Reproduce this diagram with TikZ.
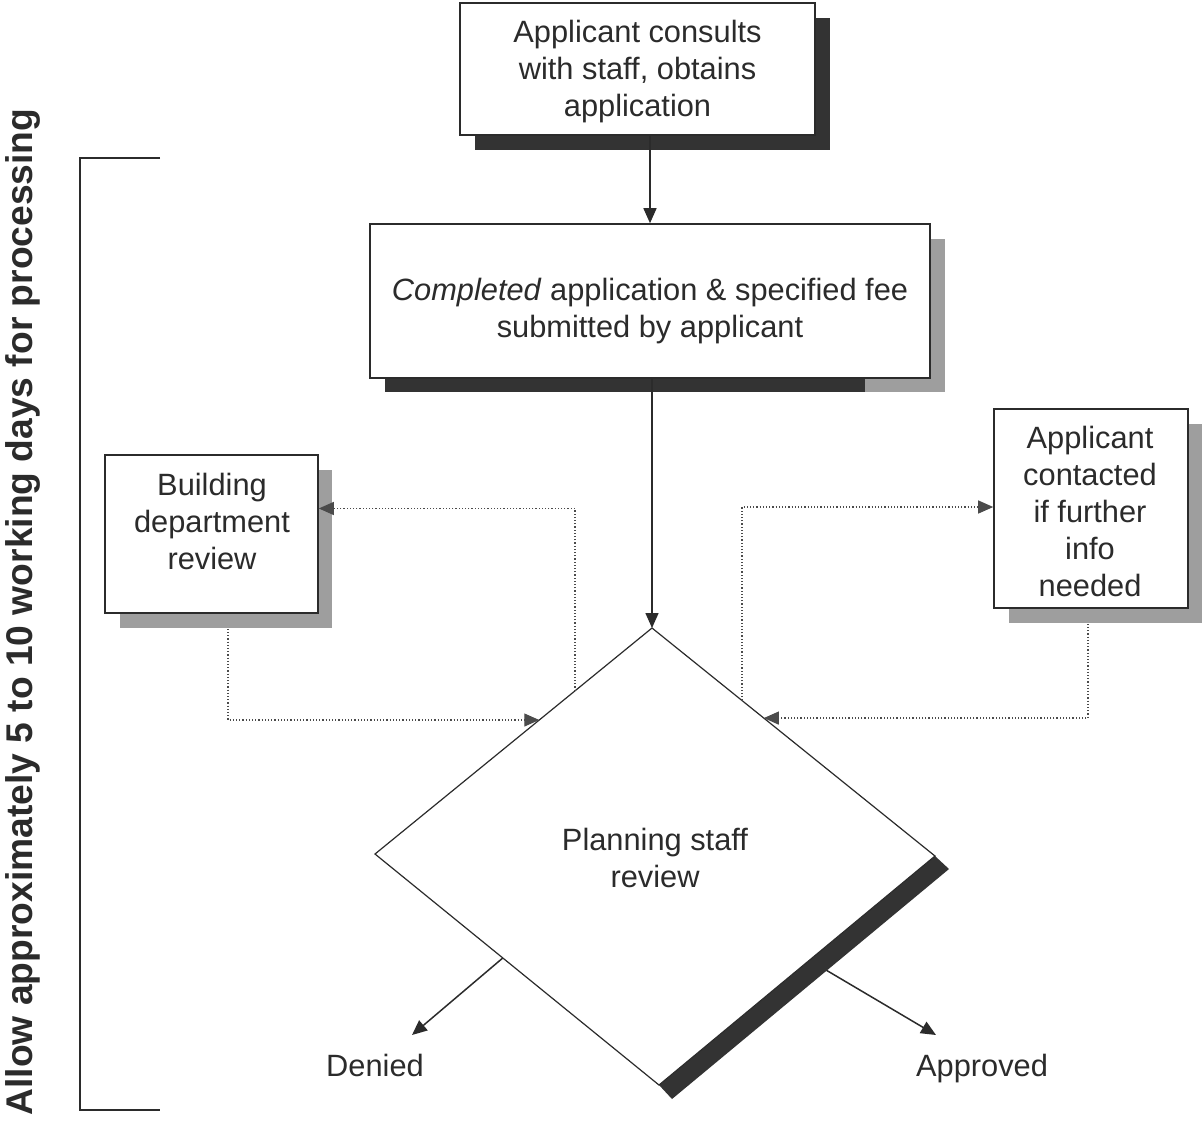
\documentclass[tikz,border=0pt]{standalone}
\usepackage{fontspec}
\setmainfont{Liberation Sans}
\usetikzlibrary{arrows.meta,calc}
\definecolor{ink}{HTML}{2B2B2B}
\definecolor{shdark}{HTML}{333333}
\definecolor{shgrey}{HTML}{9E9E9E}
\begin{document}
\begin{tikzpicture}[x=0.5pt,y=-0.5pt,
  box/.style={draw=ink, line width=0.8pt, fill=white, inner sep=0pt},
  txt/.style={text=ink, align=center, font=\fontsize{15.4}{18.5}\selectfont, inner sep=0pt},
  arr/.style={draw=ink, line width=0.75pt, -{Triangle[length=7.5pt,width=6.5pt]}},
  dotarr/.style={draw=ink!85, line width=0.6pt, densely dotted, -{Triangle[length=7.5pt,width=6.5pt]}}
]
\useasboundingbox (0,0) rectangle (1203,1121);

% diamond corners
\coordinate (dtop) at (652,628);
\coordinate (dright) at (935,856);
\coordinate (dbot) at (659,1085);
\coordinate (dleft) at (375,854);
\coordinate (denend) at (412,1035);
\coordinate (append) at (936,1035);

% approved arrow (partly under shadow)
\draw[arr] ($(dright)!0.455!(dbot)$) -- (append);

% shadows
\fill[shdark] (475,18) rectangle (830,150);
\fill[shgrey] (385,239) rectangle (945,392);
\fill[shdark] (385,378) rectangle (865,392);
\fill[shgrey] (120,470) rectangle (332,628);
\fill[shgrey] (1009,424) rectangle (1202,623);
\fill[shdark] (dright) -- ++(14,13) -- ($(dbot)+(13,14)$) -- (dbot) -- cycle;

% boxes
\node[box, minimum width=177.5pt, minimum height=66pt] (b1) at (637.5,69) {};
\node[box, minimum width=280pt, minimum height=77pt] (b2) at (650,301) {};
\node[box, minimum width=106.5pt, minimum height=79pt] (bld) at (211.5,534) {};
\node[box, minimum width=97pt, minimum height=99.5pt] (app) at (1091,508.5) {};
\draw[ink, line width=0.6pt, fill=white] (dtop) -- (dright) -- (dbot) -- (dleft) -- cycle;

% edge points on diamond
\coordinate (p1) at ($(dtop)!0.278!(dleft)$);
\coordinate (p2) at ($(dtop)!0.407!(dleft)$);
\coordinate (p3) at ($(dtop)!0.318!(dright)$);
\coordinate (p4) at ($(dtop)!0.395!(dright)$);

% connectors
\draw[arr] (b1.south -| b2.north) -- (b2.north);
\draw[arr] (b2.south -| dtop) -- (dtop);
\draw[dotarr] (p1) |- ($(bld.north east)!0.34!(bld.south east)$);
\draw[dotarr] ([yshift=-7.5pt]$(bld.south west)!0.577!(bld.south east)$) |- (p2);
\draw[dotarr] (p3) |- ($(app.north west)!0.4925!(app.south west)$);
\draw[dotarr] ([yshift=-7.5pt]$(app.south west)!0.485!(app.south east)$) |- (p4);
\draw[arr] ($(dleft)!0.45!(dbot)$) -- (denend);

% texts
\node[txt] (t1) at (637.5,72) {Applicant consults\\with staff, obtains\\application};
\node[txt] (t2) at (650,311) {\textit{Completed} application \& specified fee\\submitted by applicant};
\node[txt] (t3) at (212,521) {Building\\department\\review};
\node[txt] (t4) at (1090,511) {Applicant\\contacted\\if further\\info\\needed};
\node[txt] (t5) at (655,858) {Planning staff\\review};
\node[txt, anchor=base] (denied) at (375,1076) {Denied};
\node[txt, anchor=base] (approved) at (982,1076) {Approved};

% bracket and side label
\draw[ink, line width=0.75pt] (160,158) -- (80,158) -- (80,1110) -- (160,1110);
\node[text=ink, inner sep=0pt, rotate=90, font=\fontsize{18.6}{22}\selectfont\bfseries] (allow) at (23,612) {Allow approximately 5 to 10 working days for processing};
\end{tikzpicture}
\end{document}
